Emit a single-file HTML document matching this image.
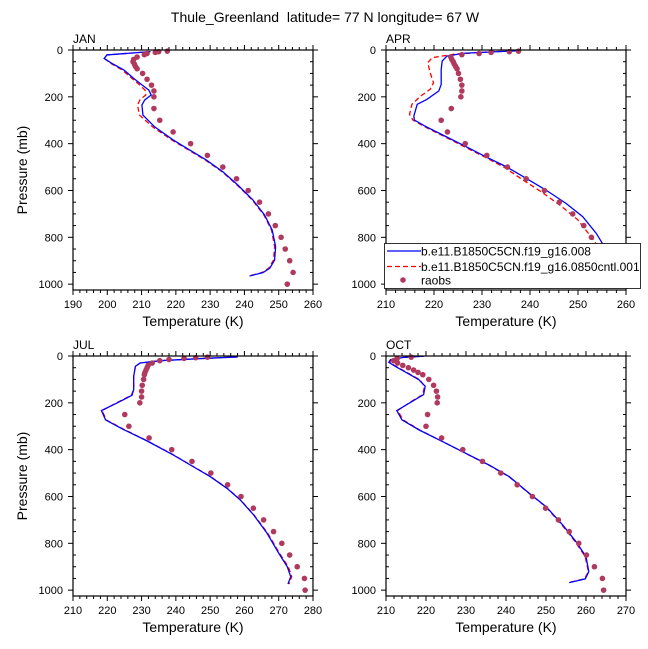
<!DOCTYPE html>
<html><head><meta charset="utf-8">
<style>
body{margin:0;background:#fff;}
svg{display:block;font-family:"Liberation Sans",sans-serif;}
</style></head>
<body>
<svg id="chart" width="648" height="649" viewBox="0 0 648 649">
<text x="325" y="22" font-size="14" text-anchor="middle" style="white-space:pre">Thule_Greenland  latitude= 77 N longitude= 67 W</text>
</svg>
<script>
// ---- data arrays ----
const panelNames = ["JAN","APR","JUL","OCT"];
const xRanges = [[190,260],[210,260],[210,280],[210,270]];
const obsLevels = [1000,950,900,850,800,750,700,650,600,550,500,450,400,350,300,250,200,175,150,125,100,80,70,60,50,40,30,20,15,10,7,5];
const obsJan = [252.5,254.2,253.2,251.9,250.7,249.0,247.0,244.4,241.1,237.7,233.7,229.2,224.3,219.2,215.3,213.6,213.6,213.6,212.9,211.6,210.3,208.7,208.2,207.9,207.5,207.7,208.7,210.8,211.6,214.0,215.0,217.5];
const obsApr = [257.0,257.0,255.6,254.2,252.8,251.2,248.9,246.1,243.0,239.2,235.3,231.0,226.5,222.8,221.5,223.6,225.6,225.8,225.8,225.5,225.1,224.8,224.5,224.2,224.0,223.7,223.5,225.8,229.4,231.9,235.7,237.6];
const obsJul = [277.7,277.5,275.4,273.2,270.9,268.5,265.6,262.6,259.0,255.1,250.2,244.7,238.8,232.2,226.3,225.1,229.5,230.0,230.0,230.2,230.6,230.8,231.0,231.3,231.6,231.9,233.1,235.3,238.0,242.4,245.8,249.2];
const obsOct = [264.4,264.1,262.1,260.1,258.2,255.8,253.1,249.9,246.6,242.8,238.7,234.1,229.2,223.9,220.0,220.4,222.8,222.9,222.6,221.9,220.7,219.2,218.0,216.9,215.6,214.2,212.9,211.9,212.6,212.8,216.3];
const obsOctLevels = [1000,950,900,850,800,750,700,650,600,550,500,450,400,350,300,250,200,175,150,125,100,80,70,60,50,40,30,20,15,10,5];

const janP = [7,21,36,57,85,121,149,171,192,214,235,278,328,384,427,470,520,577,641,705,769,840,897,932,951,965];
const janBlue = [212.6,199.9,199.1,201.3,204.8,207.7,210.1,212.1,212.8,210.9,210.1,210.4,213.8,219.2,224.0,228.9,233.7,238.1,242.5,245.9,248.1,249.1,248.8,247.4,245.4,241.5];
const janRed  = [212.6,199.9,199.1,201.0,204.3,207.2,209.4,211.0,211.2,209.5,208.8,209.4,213.2,218.8,223.7,228.6,233.5,237.9,242.3,245.7,247.9,248.8,248.5,247.1,245.0,241.3];

const aprP = [3,8,14,26,47,83,147,175,211,232,282,299,327,370,413,456,498,548,598,655,712,783,840,897,940,965,975];
const aprBlue = [237.6,232.4,226.2,222.7,221.7,221.5,221.5,221.0,218.5,216.5,215.8,215.9,218.3,222.5,226.7,230.8,235.0,239.2,243.3,247.5,251.0,253.8,255.5,256.4,256.0,254.4,252.4];
const aprRedP = [3,8,18,33,54,97,140,168,197,232,275,299,327,370,413,456,502,556,609,667,724,797,854,897,940,962,975];
const aprRed  = [237.6,231.5,224.1,219.6,218.7,219.2,219.9,219.2,217.2,215.4,214.9,215.6,218.0,222.2,226.3,230.5,234.7,238.6,242.6,246.5,249.9,252.7,254.7,255.5,255.1,253.7,251.5];

const julP = [4,11,20,30,44,87,144,168,201,233,273,313,362,423,473,515,565,615,679,757,842,900,942,974];
const julBlue = [258.0,247.2,235.5,229.6,228.2,227.7,227.7,227.2,222.8,218.3,219.5,224.6,231.5,239.3,245.1,250.0,254.9,258.8,262.7,266.6,270.0,272.5,273.5,272.7];
const julRed  = [258.0,247.2,235.5,229.6,228.2,227.7,227.7,227.0,222.6,218.5,219.7,224.8,231.6,239.4,245.2,250.1,255.0,258.9,262.8,266.8,270.2,272.8,273.8,273.0];

const octP = [1,6,16,27,44,73,101,129,165,188,233,273,316,366,416,466,515,586,643,722,793,857,921,952,968];
const octBlue = [219.4,214.4,211.1,210.7,212.3,215.3,218.2,219.8,219.4,217.1,212.7,214.0,218.3,224.2,230.0,235.8,240.8,245.8,250.0,254.2,257.5,260.0,260.7,259.8,255.8];
const octRed  = [219.4,214.4,211.3,210.9,212.5,215.5,218.4,219.6,219.2,216.9,212.9,214.3,218.4,224.2,229.9,235.7,240.7,245.7,249.9,254.0,257.3,259.8,260.6,259.6,255.5];

const legendLabels = ["b.e11.B1850C5CN.f19_g16.008","b.e11.B1850C5CN.f19_g16.0850cntl.001","raobs"];

// ---- drawing ----
const NS="http://www.w3.org/2000/svg";
const svg=document.getElementById('chart');
function mk(tag,attrs,parent){const e=document.createElementNS(NS,tag);for(const k in attrs)e.setAttribute(k,attrs[k]);(parent||svg).appendChild(e);return e;}
const boxes=[[73,50],[386,50],[73,356],[386,356]];
const W=240,H=240,PMAX=1025;
const models=[[janP,janBlue,janP,janRed],[aprP,aprBlue,aprRedP,aprRed],[julP,julBlue,julP,julRed],[octP,octBlue,octP,octRed]];
const obs=[[obsLevels,obsJan],[obsLevels,obsApr],[obsLevels,obsJul],[obsOctLevels,obsOct]];

for(let i=0;i<4;i++){
  const [x0,y0]=boxes[i];const [t0,t1]=xRanges[i];
  const sx=t=>x0+(t-t0)/(t1-t0)*W;
  const sy=p=>y0+p/PMAX*H;
  const g=mk('g',{});
  
  
  for(let t=t0;t<=t1;t+=2){
    const major=(t%10===0);const x=sx(t);
    mk('line',{x1:x,x2:x,y1:y0+H,y2:y0+H+(major?5:3),stroke:'#000','stroke-width':1},g);
    mk('line',{x1:x,x2:x,y1:y0,y2:y0-(major?5:3),stroke:'#000','stroke-width':1},g);
    if(major){const tl=mk('text',{x:x,y:y0+H+18,'font-size':11,'text-anchor':'middle'},g);tl.textContent=t;
      
      }
  }
  for(let p=0;p<=1000;p+=50){
    const major=(p%200===0);const y=sy(p);
    if(major){
      mk('line',{x1:x0-5,x2:x0,y1:y,y2:y,stroke:'#000','stroke-width':1},g);
      mk('line',{x1:x0+W,x2:x0+W+5,y1:y,y2:y,stroke:'#000','stroke-width':1},g);
      const tl=mk('text',{x:x0-10,y:y+4,'font-size':11,'text-anchor':'end'},g);tl.textContent=p;
      
      
    } else {
      mk('line',{x1:x0,x2:x0+3,y1:y,y2:y,stroke:'#000','stroke-width':1},g);
      mk('line',{x1:x0+W-3,x2:x0+W,y1:y,y2:y,stroke:'#000','stroke-width':1},g);
    }
  }
  const [pb,bl,pr,rd]=models[i];
  const rl=mk('polyline',{points:pr.map((p,k)=>sx(rd[k])+','+sy(p)).join(' '),fill:'none',stroke:'#f00','stroke-width':1.3,'stroke-dasharray':'5,3'},g);
  
  
  const bline=mk('polyline',{points:pb.map((p,k)=>sx(bl[k])+','+sy(p)).join(' '),fill:'none',stroke:'#0000ff','stroke-width':1.3},g);
  
  
  const [op,ov]=obs[i];
  op.forEach((p,k)=>{const c=mk('circle',{cx:sx(ov[k]),cy:sy(p),r:2.8,fill:'#b03a5e'},g);
    
    });
  mk('rect',{x:x0,y:y0,width:W,height:H,fill:'none',stroke:'#000','stroke-width':1.2},g);
  const lab=mk('text',{x:x0,y:y0-7,'font-size':12},g);lab.textContent=panelNames[i];
  
  
  const xt=mk('text',{x:x0+W/2,y:y0+H+36,'font-size':14,'text-anchor':'middle'},g);xt.textContent='Temperature (K)';
  
  
  if(i%2===0){const yt=mk('text',{x:0,y:0,'font-size':14,'text-anchor':'middle',transform:`translate(27,${y0+H/2}) rotate(-90)`},g);yt.textContent='Pressure (mb)';
    
    }
}
const lg=mk('g',{});


mk('rect',{x:384.5,y:243.5,width:256,height:45,fill:'#fff',stroke:'#000','stroke-width':0.8},lg);
const rows=[251,266.5,280];
mk('line',{x1:387,x2:421,y1:rows[0],y2:rows[0],stroke:'#0000ff','stroke-width':1.3},lg);
mk('line',{x1:387,x2:421,y1:rows[1],y2:rows[1],stroke:'#f00','stroke-width':1.3,'stroke-dasharray':'5,3'},lg);
mk('circle',{cx:403,cy:rows[2],r:2.8,fill:'#b03a5e'},lg);
legendLabels.forEach((s,k)=>{const t=mk('text',{x:421,y:rows[k]+4.5,'font-size':12},lg);t.textContent=s;
  
  });
</script>
</body></html>
